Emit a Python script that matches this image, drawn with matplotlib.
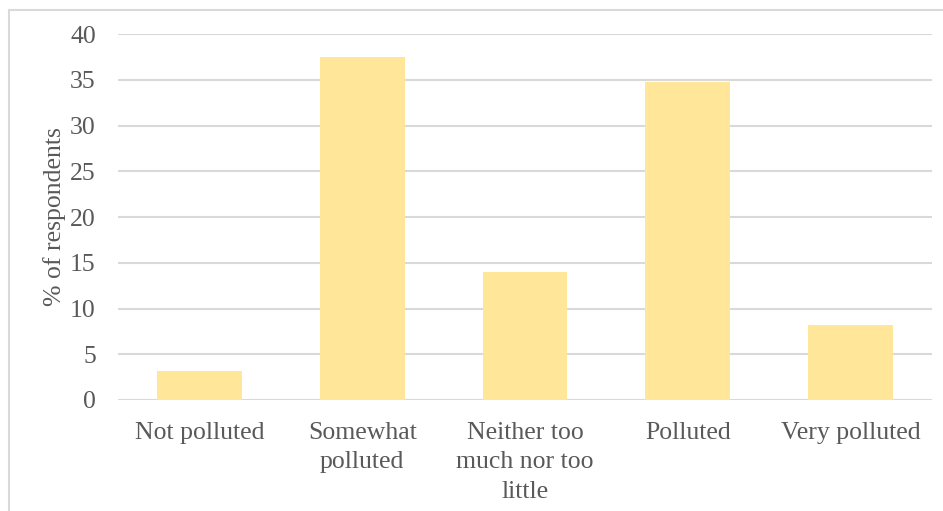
import matplotlib.pyplot as plt
from matplotlib.patches import Rectangle

categories = ['Not polluted', 'Somewhat\npolluted', 'Neither too\nmuch nor too\nlittle',
              'Polluted', 'Very polluted']
percent = [3.2, 37.5, 14.0, 34.8, 8.2]
yticks = [0, 5, 10, 15, 20, 25, 30, 35, 40]

plt.rcParams['font.family'] = ['Liberation Serif', 'DejaVu Serif']
text_color = '#595959'
fs = 18.5

fig = plt.figure(figsize=(9.43, 5.11), dpi=100)
ax = fig.add_axes([118 / 943, 1 - 400 / 511, (932 - 118) / 943, (400 - 34) / 511])

# light grey frame around the chart area
fig.add_artist(Rectangle((9 / 943, -0.1), 1.1, 1 - 10 / 511 + 0.1, transform=fig.transFigure,
                         fill=False, edgecolor='#d9d9d9', linewidth=1.5))

x = range(len(categories))
ax.bar(x, percent, width=0.52, color='#ffe699', zorder=2)

ax.set_ylim(0, 40)
ax.set_xlim(-0.5, len(categories) - 0.5)
ax.set_yticks(yticks)
ax.set_xticks(list(x))
ax.set_xticklabels(categories, linespacing=1.42)
ax.yaxis.grid(True, color='#d9d9d9', linewidth=1.5, zorder=0)
ax.set_axisbelow(True)
for s in ax.spines.values():
    s.set_visible(False)
ax.tick_params(axis='both', length=0, colors=text_color, labelsize=fs)
ax.tick_params(axis='y', pad=16)
ax.tick_params(axis='x', pad=16)
ax.set_ylabel('% of respondents', fontsize=fs, color=text_color, labelpad=3)

fig.savefig('out.png', dpi=100)
